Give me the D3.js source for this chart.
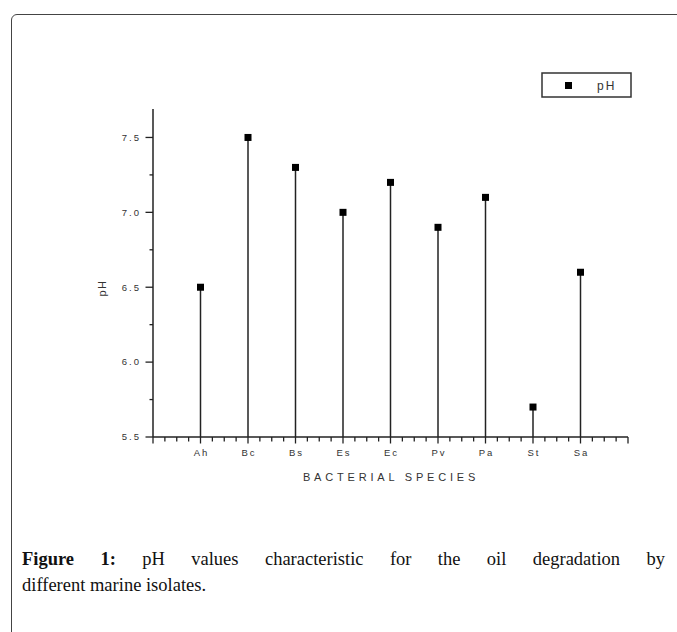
<!DOCTYPE html>
<html>
<head>
<meta charset="utf-8">
<script src="https://cdn.jsdelivr.net/npm/d3@7"></script>
<style>
  body { margin: 0; background: #fff; }
  #frame {
    position: absolute; left: 11px; top: 14px; width: 700px; height: 640px;
    border: 1.5px solid #444; border-radius: 6px; box-sizing: border-box;
  }
  #my_dataviz { position: absolute; left: 0; top: 0; }
  .caption {
    position: absolute; left: 22px; width: 643px;
    font-family: "Liberation Serif", "DejaVu Serif", serif; font-size: 18.5px; color: #111;
  }
  #line1 { top: 549px; text-align: justify; text-align-last: justify; }
  #line2 { top: 575px; }
  .tick-text { font-family: "Liberation Sans", Arial, sans-serif; fill: #333; }
</style>
</head>
<body>
<div id="frame"></div>
<div id="my_dataviz"></div>
<div class="caption" id="line1"><b>Figure 1:</b> pH values characteristic for the oil degradation by</div>
<div class="caption" id="line2">different marine isolates.</div>
<script>
// data
var species = ["Ah", "Bc", "Bs", "Es", "Ec", "Pv", "Pa", "St", "Sa"];
var phValues = [6.5, 7.5, 7.3, 7.0, 7.2, 6.9, 7.1, 5.7, 6.6];
var yTickValues = [5.5, 6.0, 6.5, 7.0, 7.5];
var yTickLabels = ["5.5", "6.0", "6.5", "7.0", "7.5"];

const outerWidth = 677;
const outerHeight = 540;
const axisColor = "#222";

const svg = d3.select("#my_dataviz").append("svg")
  .attr("width", outerWidth)
  .attr("height", outerHeight);

// x: categories at 1..9 on a 0..10 linear axis
const xScale = d3.scaleLinear().domain([0, species.length + 1]).range([153, 628]);
const yScale = d3.scaleLinear().domain([5.5, 7.69]).range([437, 109]);

// minor ticks
const xMinor = d3.range(0, species.length + 1.001, 0.25);
const yMinor = d3.range(5.5, 7.6, 0.25);

// y axis
const yAxisGroup = svg.append("g");
yAxisGroup.append("line")
  .attr("x1", xScale(0)).attr("x2", xScale(0))
  .attr("y1", yScale.range()[1]).attr("y2", yScale(5.5))
  .attr("stroke", axisColor).attr("stroke-width", 1.5);
yAxisGroup.selectAll(".ytick")
  .data(yMinor).enter().append("line")
  .attr("x1", function(d) { return Math.abs((d * 2) % 1) < 1e-6 ? xScale(0) - 7.5 : xScale(0) - 3.5; })
  .attr("x2", xScale(0))
  .attr("y1", function(d) { return yScale(d); })
  .attr("y2", function(d) { return yScale(d); })
  .attr("stroke", axisColor).attr("stroke-width", 1.3);
yAxisGroup.selectAll(".ylabel")
  .data(yTickValues).enter().append("text")
  .attr("class", "tick-text")
  .attr("x", 141)
  .attr("y", function(d) { return yScale(d); })
  .attr("dy", "0.35em")
  .attr("text-anchor", "end")
  .style("font-size", "9.5px")
  .style("letter-spacing", "2px")
  .text(function(d, i) { return yTickLabels[i]; });

// x axis
const xAxisGroup = svg.append("g");
xAxisGroup.append("line")
  .attr("x1", xScale(0)).attr("x2", xScale(species.length + 1))
  .attr("y1", yScale(5.5)).attr("y2", yScale(5.5))
  .attr("stroke", axisColor).attr("stroke-width", 1.5);
xAxisGroup.selectAll(".xtick")
  .data(xMinor).enter().append("line")
  .attr("x1", function(d) { return xScale(d); })
  .attr("x2", function(d) { return xScale(d); })
  .attr("y1", yScale(5.5))
  .attr("y2", function(d) { return Math.abs(d % 1) < 1e-6 ? yScale(5.5) + 6.5 : yScale(5.5) + 4.5; })
  .attr("stroke", axisColor).attr("stroke-width", 1.3);
xAxisGroup.selectAll(".xlabel")
  .data(species).enter().append("text")
  .attr("class", "tick-text")
  .attr("x", function(d, i) { return xScale(i + 1) + 1; })
  .attr("y", 453)
  .attr("dy", "0.35em")
  .attr("text-anchor", "middle")
  .style("font-size", "9.5px")
  .style("letter-spacing", "2px")
  .text(function(d) { return d; });

// axis titles
svg.append("text")
  .attr("class", "tick-text")
  .attr("x", 391).attr("y", 477)
  .attr("dy", "0.35em")
  .attr("text-anchor", "middle")
  .style("font-size", "11px")
  .style("letter-spacing", "3.8px")
  .text("BACTERIAL SPECIES");

svg.append("text")
  .attr("class", "tick-text")
  .attr("transform", "translate(102,288) rotate(-90)")
  .attr("dy", "0.35em")
  .attr("text-anchor", "middle")
  .style("font-size", "11px")
  .style("letter-spacing", "1.5px")
  .text("pH");

// stems and markers
const stems = svg.selectAll(".stem")
  .data(phValues).enter().append("g")
  .attr("class", "stem");
stems.append("line")
  .attr("x1", function(d, i) { return xScale(i + 1); })
  .attr("x2", function(d, i) { return xScale(i + 1); })
  .attr("y1", yScale(5.5))
  .attr("y2", function(d) { return yScale(d); })
  .attr("stroke", "#222").attr("stroke-width", 1.5);
stems.append("rect")
  .attr("x", function(d, i) { return xScale(i + 1) - 3.5; })
  .attr("y", function(d) { return yScale(d) - 3.5; })
  .attr("width", 7).attr("height", 7)
  .attr("fill", "#000");

// legend
const legend = svg.append("g");
legend.append("rect")
  .attr("x", 542).attr("y", 73).attr("width", 89).attr("height", 24)
  .attr("fill", "none").attr("stroke", "#333").attr("stroke-width", 1.5);
legend.append("rect")
  .attr("x", 565).attr("y", 82).attr("width", 7).attr("height", 7)
  .attr("fill", "#000");
legend.append("text")
  .attr("class", "tick-text")
  .attr("x", 597).attr("y", 85.5)
  .attr("dy", "0.35em")
  .style("font-size", "12px")
  .style("letter-spacing", "2px")
  .text("pH");
</script>
</body>
</html>
